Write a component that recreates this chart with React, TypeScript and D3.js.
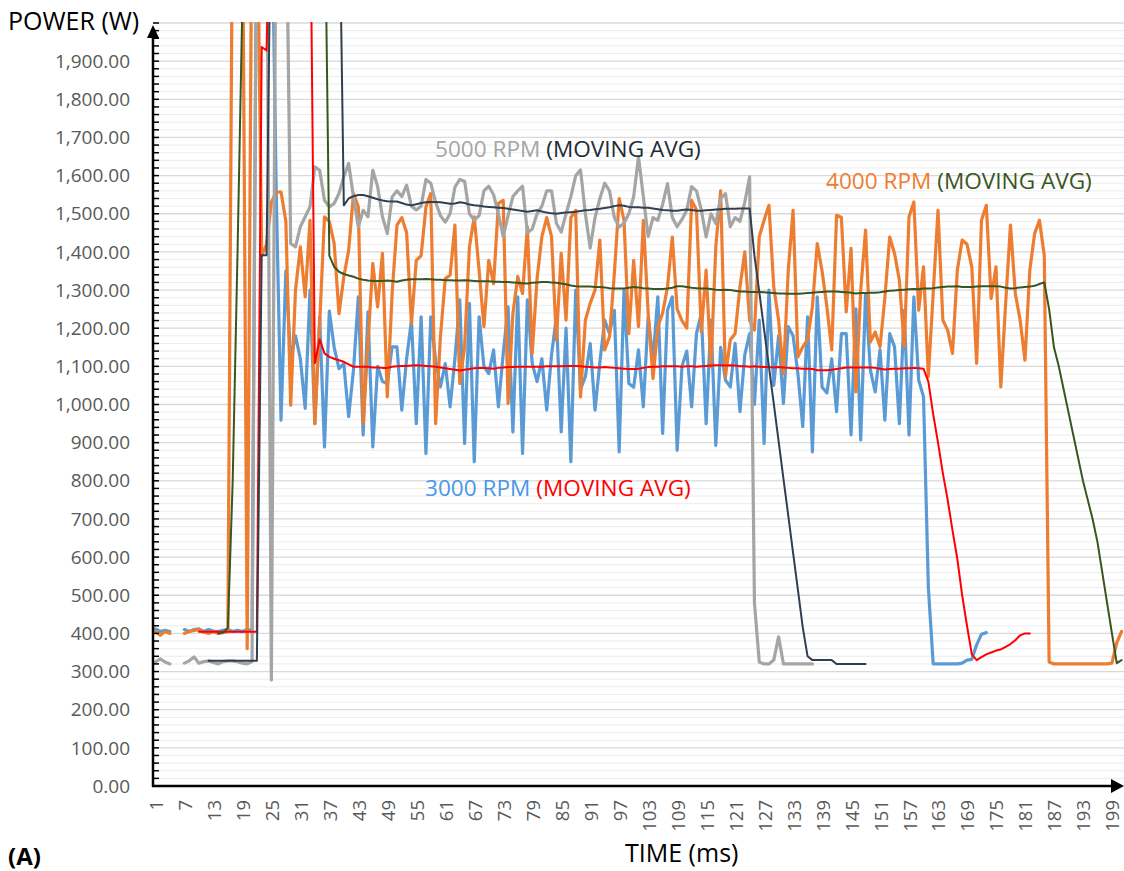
import React from "react";
import * as d3 from "d3";

// time axis: sample index 1..201 (ms)
const categories = d3.range(1, 202);
const xTickLabels = [
  1, 7, 13, 19, 25, 31, 37, 43, 49, 55, 61, 67, 73, 79, 85, 91, 97, 103, 109,
  115, 121, 127, 133, 139, 145, 151, 157, 163, 169, 175, 181, 187, 193, 199,
];
const yTicks = d3.range(0, 2000, 100);
const yMinorTicks = d3.range(0, 2001, 20);

// 3000 RPM raw power
const rpm3000 = [
  412, 405, 408, 405, null, null, 410, 405, 410, 412,
  405, 410, 406, 405, 408, 410, 405, 408, 405, 410,
  408, 2400, 2400, 2400, 2400, 1562, 959, 1350, 1120, 1180,
  1120, 990, 1300, 950, 1230, 889, 1245, 1150, 1094, 1107,
  968, 1090, 1282, 920, 1243, 889, 1100, 1060, 1055, 1151,
  1151, 985, 1120, 1221, 950, 1230, 872, 1230, 1116, 1046,
  1107, 994, 1120, 1274, 898, 1265, 850, 1230, 1100, 1081,
  1143, 994, 1134, 1256, 928, 1282, 872, 1274, 1107, 1060,
  1120, 985, 1130, 1230, 928, 1200, 850, 1300, 1040, 1073,
  1160, 985, 1110, 1221, 1186, 1247, 876, 1300, 1055, 1045,
  1143, 994, 1230, 1116, 1282, 924, 1247, 1282, 880, 1100,
  1140, 994, 1186, 1238, 950, 1221, 893, 1150, 1064, 1046,
  1160, 981, 1130, 1186, 1000, 1221, 898, 1300, 1050, 1180,
  1003, 1204, 1180, 1081, 942, 1230, 876, 1282, 1046, 1030,
  1120, 981, 1186, 1186, 920, 1251, 907, 1291, 1090, 1033,
  1143, 959, 1186, 1151, 950, 1247, 920, 1282, 1064, 1020,
  520, 320, 320, 320, 320, 320, 320, 322, 330, 332,
  370, 398, 402, null, null, null, null, null, null, null,
  null, null, null, null, null, null, null, null, null, null,
  null, null, null, null, null, null, null, null, null, null,
  null,
];

// 3000 RPM moving average
const rpm3000Avg = [
  null, null, null, null, null, null, null, null, null, 404,
  404, 404, 404, 404, 404, 404, 404, 404, 404, 404,
  404, 404, 1937, 1928, 2400, 2400, 2400, 2400, 2400, 2400,
  2400, 2400, 2400, 1108, 1171, 1134, 1125, 1120, 1116, 1112,
  1105, 1099, 1099, 1099, 1099, 1097, 1097, 1096, 1096, 1099,
  1100, 1101, 1101, 1102, 1103, 1102, 1101, 1100, 1099, 1097,
  1095, 1093, 1091, 1089, 1091, 1093, 1095, 1096, 1096, 1095,
  1094, 1096, 1097, 1098, 1098, 1099, 1099, 1099, 1099, 1099,
  1099, 1100, 1100, 1100, 1100, 1101, 1101, 1101, 1100, 1099,
  1098, 1097, 1097, 1098, 1097, 1096, 1095, 1094, 1093, 1093,
  1094, 1096, 1098, 1099, 1099, 1100, 1100, 1100, 1100, 1099,
  1100, 1100, 1099, 1100, 1101, 1102, 1103, 1103, 1102, 1103,
  1102, 1100, 1100, 1099, 1100, 1099, 1098, 1098, 1097, 1098,
  1097, 1096, 1095, 1095, 1094, 1094, 1093, 1090, 1090, 1090,
  1091, 1093, 1095, 1097, 1097, 1097, 1097, 1097, 1097, 1096,
  1094, 1092, 1093, 1094, 1094, 1095, 1095, 1096, 1095, 1094,
  1060, 975, 900, 820, 750, 670, 595, 500, 420, 345,
  330, 338, 345, 350, 355, 358, 365, 372, 382, 395,
  400, 400, null, null, null, null, null, null, null, null,
  null, null, null, null, null, null, null, null, null, null,
  null,
];

// 4000 RPM raw power
const rpm4000 = [
  405, 395, 405, 400, null, null, 400, 405, 408, 410,
  403, 400, 405, 400, 402, 405, 2400, 2400, 2400, 360,
  2400, 2400, 1390, 1420, 1530, 1557, 1557, 1480, 998, 1300,
  1413, 1282, 1483, 950, 1212, 1492, 1480, 1422, 1238, 1335,
  1404, 1553, 1518, 950, 1160, 1370, 1256, 1396, 1020, 1291,
  1470, 1490, 1450, 1212, 1378, 1390, 1518, 1553, 950, 1178,
  1330, 1339, 1470, 1055, 1151, 1413, 1492, 1352, 1204, 1378,
  1317, 1527, 1535, 1003, 1238, 1335, 1291, 1466, 1134, 1330,
  1440, 1490, 1440, 1169, 1396, 1221, 1490, 1509, 1020, 1221,
  1265, 1300, 1431, 1143, 1178, 1343, 1540, 1483, 1186, 1378,
  1204, 1483, 1240, 1068, 1204, 1240, 1308, 1439, 1250, 1220,
  1200, 1535, 1510, 1190, 1352, 1099, 1413, 1560, 1073, 1169,
  1186, 1308, 1400, 1221, 1195, 1440, 1483, 1522, 1308, 1221,
  1081, 1352, 1509, 1125, 1151, 1170, 1256, 1422, 1350, 1256,
  1143, 1496, 1490, 1243, 1409, 1033, 1300, 1457, 1164, 1190,
  1151, 1280, 1439, 1396, 1326, 1151, 1492, 1531, 1247, 1361,
  1073, 1291, 1509, 1221, 1195, 1134, 1352, 1431, 1420, 1360,
  1108, 1483, 1522, 1278, 1361, 1046, 1265, 1470, 1291, 1221,
  1116, 1352, 1448, 1483, 1390, 325, 320, 320, 320, 320,
  320, 320, 320, 320, 320, 320, 320, 320, 322, 375,
  405,
];

// 4000 RPM moving average
const rpm4000Avg = [
  null, null, null, null, null, null, null, null, null, null,
  null, null, null, 400, 402, 415, 800, 1400, 2050, 2400,
  2400, 2400, 2400, 2400, 2400, 2400, 2400, 2400, 2400, 2400,
  2400, 2400, 2400, 2400, 2400, 2400, 1390, 1361, 1348, 1342,
  1338, 1335, 1330, 1327, 1325, 1324, 1324, 1324, 1325, 1324,
  1322, 1325, 1327, 1328, 1328, 1328, 1329, 1328, 1327, 1327,
  1326, 1326, 1325, 1325, 1326, 1325, 1324, 1323, 1323, 1323,
  1322, 1322, 1321, 1321, 1320, 1319, 1318, 1317, 1319, 1320,
  1321, 1321, 1320, 1319, 1317, 1315, 1312, 1310, 1309, 1309,
  1309, 1308, 1308, 1307, 1305, 1304, 1304, 1304, 1306, 1308,
  1307, 1305, 1304, 1303, 1303, 1303, 1304, 1306, 1310, 1310,
  1308, 1306, 1305, 1304, 1304, 1303, 1301, 1300, 1301, 1300,
  1298, 1296, 1296, 1295, 1295, 1295, 1294, 1293, 1292, 1291,
  1291, 1290, 1290, 1290, 1291, 1292, 1293, 1294, 1295, 1296,
  1296, 1296, 1295, 1294, 1293, 1291, 1292, 1292, 1293, 1293,
  1294, 1296, 1298, 1299, 1300, 1301, 1302, 1303, 1302, 1304,
  1304, 1305, 1307, 1308, 1309, 1309, 1310, 1308, 1308, 1308,
  1309, 1310, 1310, 1310, 1310, 1309, 1306, 1304, 1305, 1307,
  1308, 1309, 1311, 1316, 1320, 1250, 1150, 1100, 1040, 980,
  920, 860, 800, 750, 700, 640, 560, 480, 400, 322,
  330,
];

// 5000 RPM raw power
const rpm5000 = [
  325, 333, 325, 320, null, null, 322, 328, 338, 322,
  326, 328, 324, 320, 326, 328, 328, 326, 322, 320,
  326, 2400, 2400, 2400, 278, 2400, 2400, 2400, 1422, 1413,
  1466, 1492, 1518, 1623, 1614, 1535, 1518, 1527, 1553, 1597,
  1632, 1544, 1466, 1509, 1492, 1614, 1571, 1492, 1448, 1544,
  1560, 1545, 1575, 1520, 1510, 1520, 1590, 1580, 1530, 1495,
  1478, 1500, 1570, 1590, 1585, 1500, 1483, 1495, 1560, 1572,
  1550, 1500, 1440, 1495, 1545, 1560, 1572, 1450, 1460, 1500,
  1520, 1560, 1560, 1475, 1452, 1500, 1545, 1600, 1615, 1500,
  1410, 1490, 1540, 1580, 1560, 1490, 1465, 1475, 1500, 1545,
  1649, 1545, 1440, 1490, 1483, 1525, 1579, 1490, 1466, 1485,
  1510, 1571, 1560, 1510, 1439, 1500, 1474, 1540, 1553, 1466,
  1490, 1480, 1530, 1597, 480, 325, 320, 320, 330, 391,
  320, 320, 320, 320, 320, 320, 320, null, null, null,
  null, null, null, null, null, null, null, null, null, null,
  null, null, null, null, null, null, null, null, null, null,
  null, null, null, null, null, null, null, null, null, null,
  null, null, null, null, null, null, null, null, null, null,
  null, null, null, null, null, null, null, null, null, null,
  null, null, null, null, null, null, null, null, null, null,
  null,
];

// 5000 RPM moving average
const rpm5000Avg = [
  null, null, null, null, null, null, null, null, null, null,
  null, 328, 328, 328, 328, 328, 328, 328, 328, 328,
  328, 328, 1391, 1391, 2400, 2400, 2400, 2400, 2400, 2400,
  2400, 2400, 2400, 2400, 2400, 2400, 2400, 2400, 2400, 1522,
  1540, 1546, 1549, 1549, 1546, 1542, 1538, 1535, 1533, 1532,
  1532, 1528, 1524, 1522, 1525, 1528, 1530, 1531, 1531, 1530,
  1528, 1526, 1527, 1530, 1528, 1524, 1522, 1521, 1519, 1518,
  1517, 1516, 1515, 1513, 1511, 1509, 1507, 1505, 1507, 1509,
  1506, 1503, 1501, 1500, 1502, 1503, 1504, 1505, 1507, 1509,
  1510, 1512, 1513, 1515, 1517, 1520, 1522, 1521, 1518, 1517,
  1517, 1516, 1516, 1514, 1512, 1510, 1509, 1508, 1508, 1510,
  1511, 1510, 1508, 1508, 1509, 1510, 1511, 1512, 1513, 1513,
  1513, 1514, 1514, 1514, 1390, 1295, 1196, 1099, 1002, 904,
  806, 709, 611, 514, 416, 340, 330, 330, 330, 330,
  330, 320, 320, 320, 320, 320, 320, 320, null, null,
  null, null, null, null, null, null, null, null, null, null,
  null, null, null, null, null, null, null, null, null, null,
  null, null, null, null, null, null, null, null, null, null,
  null, null, null, null, null, null, null, null, null, null,
  null, null, null, null, null, null, null, null, null, null,
  null,
];

const series = [
  { name: "3000 RPM", values: rpm3000, color: "#5b9bd5", width: 3.2 },
  { name: "4000 RPM", values: rpm4000, color: "#ed7d31", width: 3.2 },
  { name: "5000 RPM", values: rpm5000, color: "#a5a5a5", width: 3.2 },
  { name: "3000 RPM avg", values: rpm3000Avg, color: "#ff0000", width: 2 },
  { name: "4000 RPM avg", values: rpm4000Avg, color: "#38561f", width: 2 },
  { name: "5000 RPM avg", values: rpm5000Avg, color: "#323f4f", width: 2 },
];

const FONT = "'Open Sans', 'Liberation Sans', sans-serif";

const App = () => {
  const left = 153;
  const right = 1124;
  const top = 23;
  const bottom = 786;

  const x = d3.scaleBand<number>().domain(categories).range([left, right]);
  const bw = x.bandwidth();
  const cx = (c: number) => (x(c) as number) + bw / 2;
  const y = d3.scaleLinear().domain([0, 2000]).range([bottom, top]);

  const line = d3
    .line<number | null>()
    .defined((d) => d != null)
    .x((d, i) => cx(categories[i]))
    .y((d) => y(d as number));

  const fmt = d3.format(",.2f");

  return (
    <svg
      width={1124}
      height={871}
      style={{ position: "absolute", left: 0, top: 0, background: "#fff" }}
      fontFamily={FONT}
    >
      <defs>
        <clipPath id="plot">
          <rect x={left} y={top - 1} width={right - left} height={bottom - top + 1} />
        </clipPath>
      </defs>

      {/* minor gridlines */}
      {yMinorTicks
        .filter((v) => v % 100 !== 0)
        .map((v) => (
          <line key={"m" + v} x1={left} x2={right} y1={y(v)} y2={y(v)} stroke="#ececec" strokeWidth={1} />
        ))}
      {/* major gridlines */}
      {d3.range(100, 2001, 100).map((v) => (
        <line key={"g" + v} x1={left} x2={right} y1={y(v)} y2={y(v)} stroke="#d9d9d9" strokeWidth={1.3} />
      ))}

      <g clipPath="url(#plot)" fill="none" strokeLinejoin="round" strokeLinecap="round">
        {series.map((s) => (
          <path key={s.name} d={line(s.values) || ""} stroke={s.color} strokeWidth={s.width} />
        ))}
      </g>

      {/* y axis */}
      {yMinorTicks.map((v) => (
        <line key={"t" + v} x1={left} x2={left + 6} y1={y(v)} y2={y(v)} stroke="#000" strokeWidth={1.5} />
      ))}
      <line x1={left} x2={left} y1={bottom + 1} y2={34} stroke="#000" strokeWidth={2.5} />
      <path d={`M${left},25 L${left - 6},38 L${left + 6},38 Z`} fill="#000" />
      {yTicks.map((v) => (
        <text key={"y" + v} x={130} y={y(v)} dy="0.35em" textAnchor="end" fontSize={19} fill="#595959">
          {fmt(v)}
        </text>
      ))}

      {/* x axis */}
      <line x1={left - 1} x2={1114} y1={bottom} y2={bottom} stroke="#000" strokeWidth={2.5} />
      <path d={`M1124,${bottom} L1111,${bottom - 7} L1111,${bottom + 7} Z`} fill="#000" />
      {xTickLabels.map((c) => (
        <text
          key={"x" + c}
          transform={`translate(${cx(c) + 1},800) rotate(-90)`}
          dy="0.35em"
          textAnchor="end"
          fontSize={18.5}
          fill="#595959"
        >
          {c}
        </text>
      ))}

      {/* titles */}
      <text x={8} y={30} fontSize={25} fill="#000">POWER (W)</text>
      <text x={625} y={862} fontSize={25} fill="#000">TIME (ms)</text>
      <text x={8} y={865} fontSize={24} fontWeight="bold" fill="#000">(A)</text>

      {/* annotations */}
      <text x={435} y={157} fontSize={22.6} style={{ whiteSpace: "pre" }}>
        <tspan fill="#a5a5a5">5000 RPM</tspan>
        <tspan fill="#222a35"> (MOVING AVG)</tspan>
      </text>
      <text x={826} y={189} fontSize={22.6} style={{ whiteSpace: "pre" }}>
        <tspan fill="#ed7d31">4000 RPM</tspan>
        <tspan fill="#375623"> (MOVING AVG)</tspan>
      </text>
      <text x={425} y={496} fontSize={22.6} style={{ whiteSpace: "pre" }}>
        <tspan fill="#4a97e6">3000 RPM</tspan>
        <tspan fill="#ff0000"> (MOVING AVG)</tspan>
      </text>
    </svg>
  );
};

export default App;
